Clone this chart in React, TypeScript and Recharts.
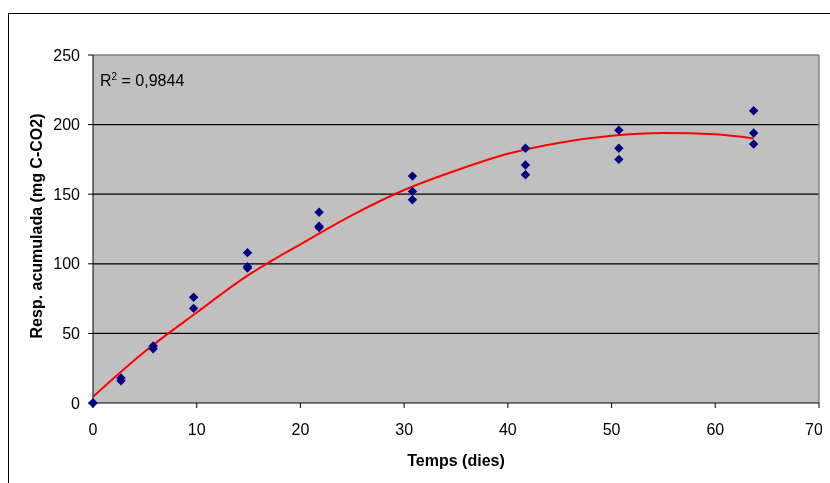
import React from 'react';
import { ScatterChart, Scatter, XAxis, YAxis, CartesianGrid, ReferenceLine } from 'recharts';

// sampling days and the three replicate readings (mg C-CO2)
const days = [0, 2.7, 5.8, 9.7, 14.9, 21.8, 30.8, 41.7, 50.7, 63.7];
const rep1 = [0, 16, 39, 68, 97, 126, 146, 164, 175, 186];
const rep2 = [0, 18, 41, 76, 98, 127, 152, 171, 183, 194];
const rep3 = [null, null, null, null, 108, 137, 163, 183, 196, 210];

// polynomial trend line
const trendDays = [0, 5, 10, 15, 20, 25, 30, 35, 40, 45, 50, 55, 60, 63.7];
const trendResp = [4.5, 37, 65, 92, 114, 135, 153, 167, 179, 187, 192, 194, 193, 190];

const xTicks = [0, 10, 20, 30, 40, 50, 60, 70];
const yTicks = [0, 50, 100, 150, 200, 250];

const font = '"Liberation Sans", Arial, sans-serif';

const points: { x: number; y: number }[] = [];
days.forEach((d, i) => {
  [rep1[i], rep2[i], rep3[i]].forEach((v) => {
    if (v !== null) points.push({ x: d, y: v });
  });
});

const trend = trendDays.map((d, i) => ({ x: d, y: trendResp[i] }));

const Diamond = (props: any) => {
  const { cx, cy } = props;
  if (cx == null || cy == null) return <g />;
  const r = 4.7;
  return (
    <polygon
      points={`${cx},${cy - r} ${cx + r},${cy} ${cx},${cy + r} ${cx - r},${cy}`}
      fill="#000080"
    />
  );
};

const App = () => {
  return (
    <div style={{ position: 'relative', width: 814, height: 467, fontFamily: font }}>
      {/* outer frame of the chart, cut by the window on the right and bottom */}
      <div
        style={{
          position: 'fixed',
          left: 8,
          top: 13,
          width: 830,
          height: 480,
          borderTop: '1px solid #000',
          borderLeft: '1px solid #000',
        }}
      />
      <div style={{ position: 'absolute', left: 0, top: 0 }}>
        <ScatterChart width={814} height={467} margin={{ top: 47, right: 3, left: 35, bottom: 42 }}>
          <CartesianGrid
            vertical={false}
            horizontalValues={[50, 100, 150, 200]}
            stroke="#000"
            strokeWidth={1.3}
            fill="#c0c0c0"
            fillOpacity={1}
          />
          <XAxis
            type="number"
            dataKey="x"
            domain={[0, 70]}
            ticks={xTicks}
            height={30}
            stroke="#000"
            tickSize={5}
            tickMargin={16}
            tick={{ fill: '#000', fontSize: 16, fontFamily: font }}
          />
          <YAxis
            type="number"
            dataKey="y"
            domain={[0, 250]}
            ticks={yTicks}
            width={50}
            stroke="#000"
            tickSize={5}
            tickMargin={8}
            tick={{ fill: '#000', fontSize: 16, fontFamily: font }}
          />
          <ReferenceLine y={250} stroke="#808080" strokeWidth={1.5} />
          <ReferenceLine x={70} stroke="#808080" strokeWidth={1.5} />
          <Scatter
            data={trend}
            line={{ stroke: '#ff0000', strokeWidth: 2 }}
            lineJointType="monotoneX"
            shape={() => <g />}
            isAnimationActive={false}
          />
          <Scatter data={points} shape={Diamond} isAnimationActive={false} />
        </ScatterChart>
      </div>
      <div
        style={{
          position: 'absolute',
          left: 92,
          top: 65,
          fontSize: 16,
          lineHeight: '16px',
          color: '#000',
          whiteSpace: 'nowrap',
        }}
      >
        R<sup style={{ fontSize: 10, lineHeight: 0 }}>2</sup> = 0,9844
      </div>
      <div
        style={{
          position: 'absolute',
          left: 29,
          top: 218,
          transform: 'translate(-50%, -50%) rotate(-90deg)',
          fontSize: 16,
          fontWeight: 'bold',
          whiteSpace: 'nowrap',
          color: '#000',
        }}
      >
        Resp. acumulada (mg C-CO2)
      </div>
      <div
        style={{
          position: 'absolute',
          left: 448,
          top: 453,
          transform: 'translate(-50%, -50%)',
          fontSize: 16,
          fontWeight: 'bold',
          whiteSpace: 'nowrap',
          color: '#000',
        }}
      >
        Temps (dies)
      </div>
    </div>
  );
};

export default App;
